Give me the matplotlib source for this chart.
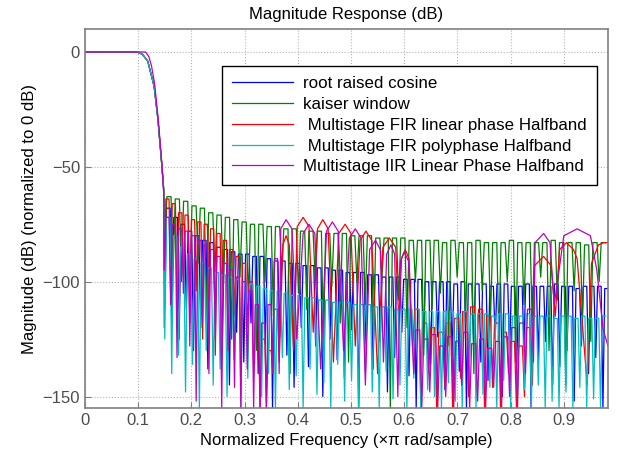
#!/usr/bin/env python3
"""Magnitude response of five decimation filter designs (dB vs normalized frequency)."""

import numpy as np
import matplotlib
matplotlib.use('Agg')
import matplotlib.pyplot as plt

plt.rcParams['font.family'] = ['Liberation Sans', 'DejaVu Sans']

# --- passband / transition band ---
trans_f = [0.0, 0.098, 0.108, 0.118, 0.130, 0.137, 0.1447, 0.148]
trans_db = [0, 0, -1, -4, -15, -29, -50, -60]
iir_trans_f = [0.0, 0.114, 0.120, 0.125, 0.131, 0.138, 0.145, 0.148]
iir_trans_db = [0, 0, -2, -6, -14, -30, -50, -62]

# --- root raised cosine: stopband lobes (peak / null per lobe) ---
rrc_start, rrc_step = 0.150, 0.0135
rrc_peak_db = [-68, -72, -75, -78,
               -80, -82, -83, -85, -86, -87, -88, -88,
               -89, -89, -90, -91, -91, -92, -92,
               -93, -93, -94, -94, -95, -95, -96, -96,
               -96, -97, -97, -98, -98, -98, -99, -99, -99, -100, -100,
               -100, -100, -101, -100, -101, -101, -101, -102, -101, -101, -102, -102,
               -101, -102, -102, -102, -101, -102, -102, -103, -102, -102, -102, -103]
rrc_null_db = [-110, -118, -125, -112, -130, -120, -138, -115, -128, -145,
               -122, -135, -118, -140, -127, -155, -124, -132, -146, -120,
               -137, -128, -150, -125, -134, -142, -121, -155, -130, -138,
               -126, -148, -133, -122, -141, -155, -129, -136, -124, -147,
               -132, -139, -155, -127, -135, -143, -125, -150, -131, -138,
               -128, -155, -134, -126, -145, -137, -130, -152, -128, -140,
               -133, -155]

# --- kaiser window ---
kai_start, kai_step = 0.150, 0.0157
kai_peak_db = [-63, -64, -65, -67, -68, -70,
               -71, -72, -73, -74, -75, -75,
               -76, -76, -77, -77, -78, -78, -78, -79, -79,
               -79, -80, -80, -80, -81, -81, -81, -81, -82, -82,
               -82, -82, -83, -82, -83, -83, -82, -83, -83, -83, -82,
               -83, -83, -83, -83, -82, -83, -83, -83, -84, -83, -83]
kai_null_db = [-85, -95, -100, -110, -92, -118, -96, -104, -125, -98,
               -108, -130, -100, -115, -95, -140, -105, -112, -98, -128,
               -102, -118, -135, -100, -110, -125, -98, -155, -108, -120,
               -100, -132, -112, -105, -128, -98, -118, -140, -104, -115,
               -126, -100, -135, -110, -120, -98, -130, -108, -145, -104,
               -118, -126, -100]

# --- multistage FIR polyphase halfband ---
poly_start, poly_step = 0.150, 0.0130
poly_peak_db = [-72, -80, -85, -88,
                -90, -92, -94, -96, -97, -98, -99, -100,
                -101, -102, -103, -104, -104, -105, -106, -106,
                -107, -107, -108, -108, -109, -109, -109, -110,
                -110, -110, -111, -111, -111, -112, -112, -112, -112, -113, -113, -113,
                -113, -113, -114, -113, -114, -114, -114, -115, -114, -114, -115, -115,
                -114, -115, -115, -115, -116, -115, -115, -116, -115, -116, -116, -115]
poly_null_db = [-125, -140, -132, -148, -136, -155, -130, -145, -138, -150,
                -134, -155, -142, -136, -150, -140, -155, -133, -147, -141,
                -155, -138, -149, -144, -155, -136, -152, -143, -155, -140,
                -148, -155, -139, -151, -145, -155, -142, -155, -147, -150,
                -155, -144, -152, -155, -141, -155, -149, -146, -155, -143,
                -155, -150, -147, -155, -145, -155, -152, -155, -148, -155,
                -146, -155, -151, -155]

# --- multistage FIR linear phase halfband ---
fir_lo_start, fir_lo_step = 0.149, 0.012
fir_lo_peak_db = [-64, -66, -70, -71, -73, -74, -75, -77, -79, -82,
                  -86, -89, -92, -100, -118, -125, -130, -112]
fir_lo_null_db = [-120, -105, -112, -98, -118, -104, -125, -108, -132, -110,
                  -128, -115, -135, -120, -140, -155, -155, -140]
fir_hump1_f = [0.365, 0.372, 0.378, 0.384, 0.392, 0.399, 0.410, 0.421, 0.429, 0.437,
               0.447, 0.457, 0.467, 0.477, 0.489, 0.500, 0.508, 0.517, 0.528, 0.539,
               0.550, 0.560, 0.572, 0.584, 0.590, 0.595, 0.602, 0.609]
fir_hump1_db = [-135, -84, -80, -84, -130, -76, -72, -76, -122, -77,
                -73, -77, -135, -79, -75, -79, -128, -82, -78, -82,
                -140, -85, -81, -85, -118, -90, -86, -90]
fir_mid_start, fir_mid_step = 0.616, 0.015
fir_mid_peak_db = [-112, -118, -120, -122, -118, -116, -113, -111, -112, -115,
                   -118, -122, -126, -128, -120]
fir_mid_null_db = [-130, -150, -140, -155, -145, -155, -142, -150, -138, -155,
                   -146, -155, -140, -155, -150]
fir_hump2_f = [0.841, 0.845, 0.862, 0.876, 0.884, 0.892, 0.905, 0.918, 0.925, 0.944,
               0.952, 0.965, 0.975, 0.983]
fir_hump2_db = [-145, -93, -89, -93, -115, -86, -83, -86, -90, -145,
                -92, -84, -83, -83]

# --- multistage IIR linear phase halfband ---
iir_lo_start, iir_lo_step = 0.149, 0.012
iir_lo_peak_db = [-72, -75, -77, -78, -80, -82, -84, -86, -89, -92,
                  -95, -98, -100, -104, -110, -118, -110, -90]
iir_lo_null_db = [-95, -110, -133, -105, -128, -152, -118, -140, -125, -155,
                  -130, -146, -155, -138, -155, -155, -155, -140]
iir_hump1_f = [0.365, 0.368, 0.378, 0.389, 0.398, 0.410, 0.421, 0.432, 0.443, 0.454,
               0.465, 0.476, 0.486, 0.497, 0.508, 0.519, 0.527, 0.535, 0.546, 0.555,
               0.561, 0.567, 0.575, 0.582, 0.588, 0.593, 0.600, 0.608]
iir_hump1_db = [-140, -77, -73, -77, -125, -79, -75, -79, -138, -78,
                -74, -78, -130, -81, -77, -81, -145, -86, -82, -86,
                -135, -88, -84, -88, -150, -91, -87, -91]
iir_mid_start, iir_mid_step = 0.618, 0.015
iir_mid_peak_db = [-121, -125, -123, -128, -124, -126, -122, -127, -125, -129,
                   -126, -124, -120, -118, -112]
iir_mid_null_db = [-140, -155, -148, -155, -150, -155, -145, -155, -152, -155,
                   -146, -155, -150, -155, -140]
iir_hump2_f = [0.843, 0.846, 0.862, 0.874, 0.882, 0.900, 0.925, 0.950, 0.962, 0.974, 0.983]
iir_hump2_db = [-135, -83, -79, -83, -110, -80, -77, -80, -95, -121, -128]


def lobe_vertices(start, step, peaks, nulls):
    """Null at each lobe edge, flat-ish top across the middle of the lobe."""
    f, db = [], []
    for i, (p, n) in enumerate(zip(peaks, nulls)):
        f += [start + i * step, start + (i + 0.25) * step, start + (i + 0.75) * step]
        db += [n, p, p]
    return f, db


def main():
    rrc_f, rrc_db = lobe_vertices(rrc_start, rrc_step, rrc_peak_db, rrc_null_db)
    kai_f, kai_db = lobe_vertices(kai_start, kai_step, kai_peak_db, kai_null_db)
    poly_f, poly_db = lobe_vertices(poly_start, poly_step, poly_peak_db, poly_null_db)

    fir_lo_f, fir_lo_db = lobe_vertices(fir_lo_start, fir_lo_step, fir_lo_peak_db, fir_lo_null_db)
    fir_mid_f, fir_mid_db = lobe_vertices(fir_mid_start, fir_mid_step, fir_mid_peak_db, fir_mid_null_db)
    fir_f = trans_f + fir_lo_f + fir_hump1_f + fir_mid_f + fir_hump2_f
    fir_db = trans_db + fir_lo_db + fir_hump1_db + fir_mid_db + fir_hump2_db

    iir_lo_f, iir_lo_db = lobe_vertices(iir_lo_start, iir_lo_step, iir_lo_peak_db, iir_lo_null_db)
    iir_mid_f, iir_mid_db = lobe_vertices(iir_mid_start, iir_mid_step, iir_mid_peak_db, iir_mid_null_db)
    iir_f = iir_trans_f + iir_lo_f + iir_hump1_f + iir_mid_f + iir_hump2_f
    iir_db = iir_trans_db + iir_lo_db + iir_hump1_db + iir_mid_db + iir_hump2_db

    series = [
        (trans_f + rrc_f, trans_db + rrc_db, '#0000ff', 'root raised cosine'),
        (trans_f + kai_f, trans_db + kai_db, '#008000', 'kaiser window'),
        (fir_f, fir_db, '#ff0000', ' Multistage FIR linear phase Halfband'),
        (trans_f + poly_f, trans_db + poly_db, '#00bfbf', ' Multistage FIR polyphase Halfband'),
        (iir_f, iir_db, '#bf00bf', 'Multistage IIR Linear Phase Halfband'),
    ]

    fig = plt.figure(figsize=(6.18, 4.57), dpi=100)
    ax = fig.add_axes([0.1375, 0.1072, 0.8463, 0.8293])

    for f, db, color, label in series:
        ax.plot(f, db, color=color, linewidth=0.9, label=label)

    ax.set_xlim(0, 0.983)
    ax.set_ylim(-155, 10)
    ax.set_xticks(np.arange(0, 0.95, 0.1))
    ax.set_xticklabels(['0', '0.1', '0.2', '0.3', '0.4', '0.5', '0.6', '0.7', '0.8', '0.9'])
    ax.set_yticks([0, -50, -100, -150])
    ax.tick_params(direction='in', length=4, color='#808080', labelcolor='#4d4d4d', labelsize=12)
    for sp in ax.spines.values():
        sp.set_color('#808080')
        sp.set_linewidth(1.2)
    ax.grid(True, color='#b4b4b4', linestyle=':', linewidth=0.8)

    ax.set_title('Magnitude Response (dB)', fontsize=12, pad=7)
    ax.set_xlabel('Normalized Frequency (\u00d7\u03c0 rad/sample)', fontsize=12)
    ax.set_ylabel('Magnitude (dB) (normalized to 0 dB)', fontsize=12)

    leg = ax.legend(loc='upper left', bbox_to_anchor=(0.262, 0.902), borderaxespad=0,
                    fontsize=12.2, handlelength=3.6, handletextpad=0.6, labelspacing=0.34,
                    fancybox=False, framealpha=1, edgecolor='black', borderpad=0.6)
    leg.get_frame().set_linewidth(1.0)

    fig.savefig('out.png', dpi=100)
    plt.close(fig)


if __name__ == '__main__':
    main()
